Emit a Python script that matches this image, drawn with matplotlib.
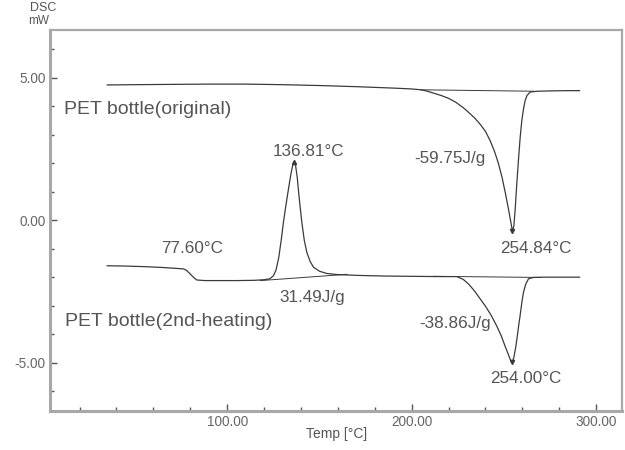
import matplotlib
matplotlib.use("Agg")
import matplotlib.pyplot as plt
from matplotlib.ticker import MultipleLocator, FormatStrFormatter

plt.rcParams['font.family'] = ['Liberation Sans', 'DejaVu Sans']

# curve 1: PET bottle (original), temp [C] vs DSC [mW]
t_orig = [35, 50, 70, 90, 110, 130, 150, 170, 190, 200, 205, 208, 212, 216, 220,
          224, 228, 231, 234, 237, 240, 242.5, 245, 247, 249, 250.8, 252.5,
          253.7, 254.6, 255.4, 256.1, 257, 257.9, 258.8, 259.7, 260.6, 261.5,
          262.5, 264.2, 268, 275, 283, 291]
v_orig = [4.75, 4.76, 4.77, 4.78, 4.78, 4.76, 4.73, 4.69, 4.64, 4.61, 4.58, 4.54,
          4.46, 4.38, 4.28, 4.14, 3.95, 3.78, 3.6, 3.38, 3.12, 2.8, 2.4, 2.0, 1.5,
          0.95, 0.38, -0.05, -0.38, -0.2, 0.38, 1.3, 2.13, 2.9, 3.5, 3.9, 4.2,
          4.38, 4.5, 4.53, 4.54, 4.55, 4.55]

# curve 2: PET bottle (2nd-heating)
t_2nd = [35, 45, 55, 65, 72, 76.3, 78, 80, 82, 83.6, 88, 95, 105, 115, 120, 123,
         125.1, 126.5, 128, 129.3, 130.5, 131.8, 133.2, 134.5, 135.5, 136.3,
         137.1, 138, 138.6, 139.5, 140.5, 141.8, 143.2, 145, 146.8, 150, 154, 160,
         172, 185, 200, 215, 224.5, 228, 231, 234, 237, 240, 243, 246, 248.5,
         250.5, 252.3, 253.5, 254.3, 255.3, 256.3, 257.2, 258, 258.8, 259.7,
         260.6, 261.8, 263.3, 266, 272, 280, 291]
v_2nd = [-1.6, -1.61, -1.63, -1.66, -1.69, -1.71, -1.76, -1.89, -2.02, -2.1,
         -2.12, -2.12, -2.12, -2.11, -2.09, -2.06, -1.95, -1.75, -1.3, -0.7,
         -0.08, 0.5, 1.08, 1.6, 1.92, 2.03, 1.92, 1.5, 1.08, 0.5, -0.08, -0.7,
         -1.13, -1.45, -1.65, -1.79, -1.87, -1.91, -1.94, -1.96, -1.97, -1.98,
         -1.98, -2.08, -2.25, -2.48, -2.75, -3.02, -3.33, -3.7, -4.05, -4.4,
         -4.7, -4.9, -4.98, -4.85, -4.5, -4.1, -3.7, -3.34, -2.9, -2.53, -2.25,
         -2.06, -2.01, -2.0, -2.0, -2.0]

# integration baselines
base_orig_t = [205, 266]
base_orig_v = [4.58, 4.53]
base_cry_t = [118, 165]
base_cry_v = [-2.12, -1.9]
base_melt_t = [212, 270]
base_melt_v = [-1.97, -2.01]

# peak markers
peak_t = [254.6, 136.3, 254.3]
peak_v = [-0.38, 2.03, -4.98]
peak_dir = ['v', '^', 'v']

fig = plt.figure(figsize=(6.25, 4.5), dpi=100)
ax = fig.add_axes([50 / 625, 1 - 411 / 450, 572 / 625, 381 / 450])

lc = '#3a3a3a'
ax.plot(t_orig, v_orig, color=lc, lw=0.9)
ax.plot(t_2nd, v_2nd, color=lc, lw=0.9)
ax.plot(base_orig_t, base_orig_v, color=lc, lw=0.7)
ax.plot(base_cry_t, base_cry_v, color=lc, lw=0.7)
ax.plot(base_melt_t, base_melt_v, color=lc, lw=0.7)
for pt, pv, m in zip(peak_t, peak_v, peak_dir):
    ax.plot([pt], [pv], marker=m, ms=3, color=lc, ls='none')

ax.set_xlim(4, 314)
ax.set_ylim(-6.7, 6.68)
ax.xaxis.set_major_locator(MultipleLocator(100))
ax.xaxis.set_minor_locator(MultipleLocator(20))
ax.yaxis.set_major_locator(MultipleLocator(5))
ax.yaxis.set_minor_locator(MultipleLocator(1))
ax.xaxis.set_major_formatter(FormatStrFormatter('%.2f'))
ax.yaxis.set_major_formatter(FormatStrFormatter('%.2f'))
ax.tick_params(which='both', direction='in', colors='#555555', labelsize=9.8)
ax.tick_params(which='major', length=5, width=1, pad=3)
ax.tick_params(which='minor', length=3, width=1)
ax.tick_params(axis='both', labelcolor='#666666')

for s in ['left', 'bottom']:
    ax.spines[s].set_color('#a8a8a8')
    ax.spines[s].set_linewidth(2.2)
for s in ['top', 'right']:
    ax.spines[s].set_color('#a8a8a8')
    ax.spines[s].set_linewidth(1.6)

tc = '#555555'
big = 14
small = 12.3
ax.text(11.7, 3.88, 'PET bottle(original)', fontsize=big, color=tc, ha='left', va='center')
ax.text(12.2, -3.57, 'PET bottle(2nd-heating)', fontsize=big, color=tc, ha='left', va='center')
ax.text(143.9, 2.41, '136.81°C', fontsize=small, color=tc, ha='center', va='center')
ax.text(220.9, 2.17, '-59.75J/g', fontsize=small, color=tc, ha='center', va='center')
ax.text(267.5, -1.01, '254.84°C', fontsize=small, color=tc, ha='center', va='center')
ax.text(81.0, -0.98, '77.60°C', fontsize=small, color=tc, ha='center', va='center')
ax.text(146.1, -2.73, '31.49J/g', fontsize=small, color=tc, ha='center', va='center')
ax.text(223.6, -3.64, '-38.86J/g', fontsize=small, color=tc, ha='center', va='center')
ax.text(262.1, -5.56, '254.00°C', fontsize=small, color=tc, ha='center', va='center')

fig.text(43 / 625, 1 - 8 / 450, 'DSC', fontsize=9, color=tc, ha='center', va='center')
fig.text(39 / 625, 1 - 21 / 450, 'mW', fontsize=8.5, color=tc, ha='center', va='center')
fig.text(337 / 625, 1 - 434 / 450, 'Temp [°C]', fontsize=10, color=tc, ha='center', va='center')

fig.savefig('out.png', dpi=100)
